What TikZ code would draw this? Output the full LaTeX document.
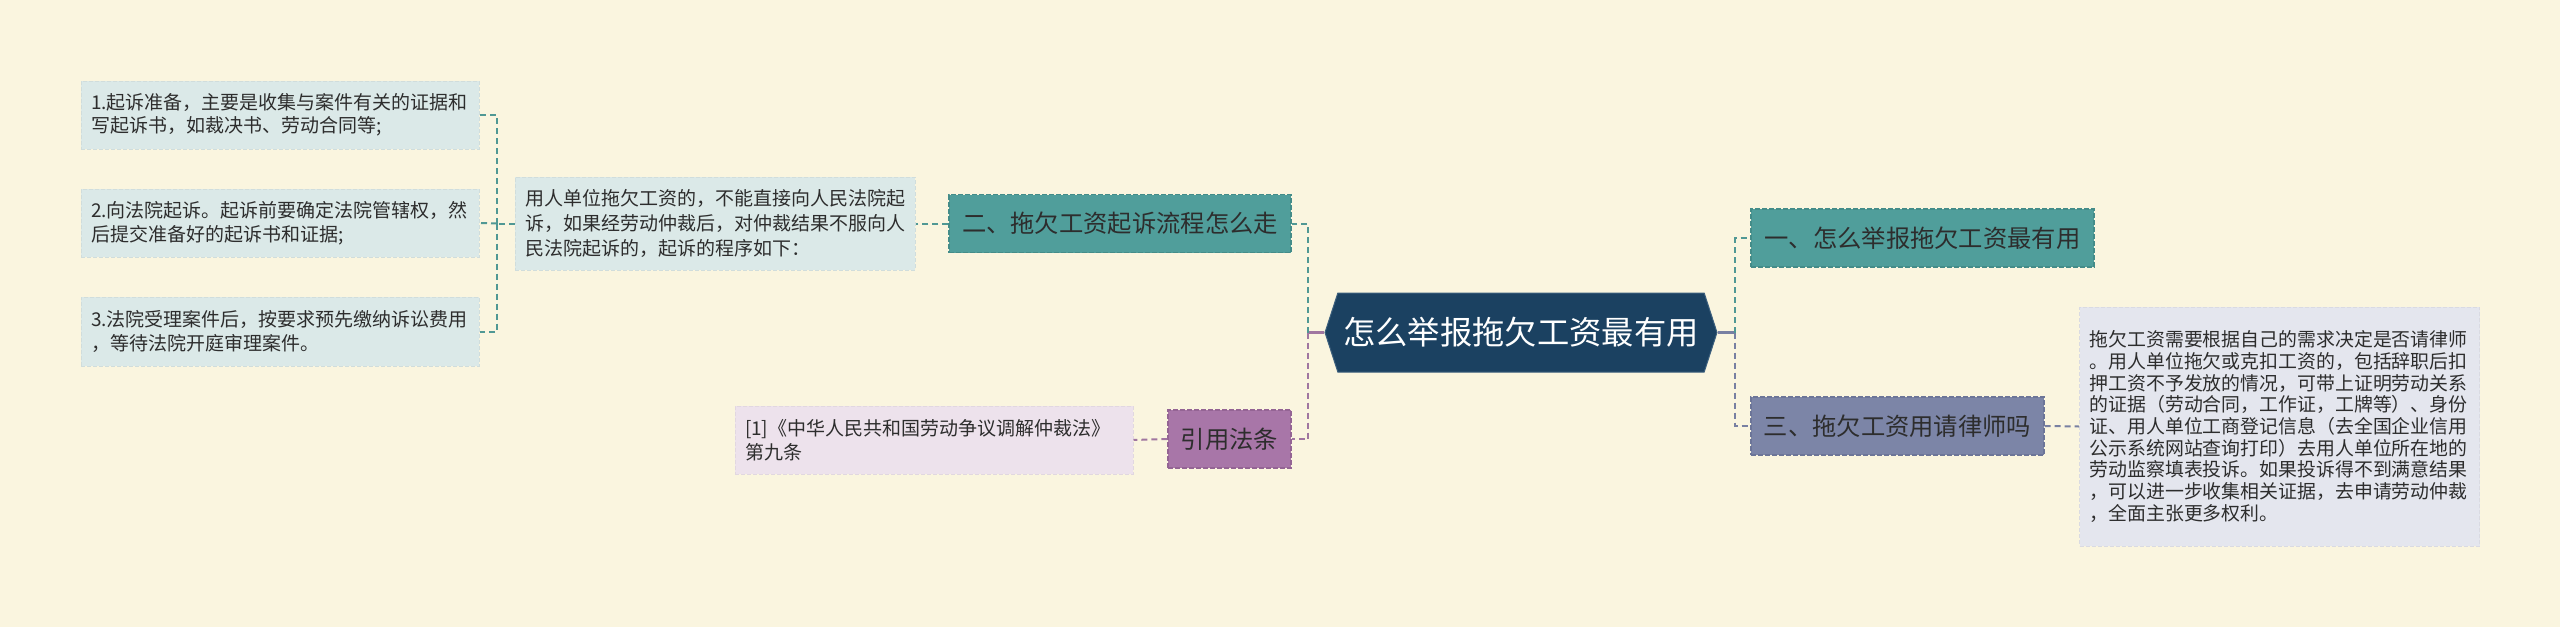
\documentclass[tikz,border=0pt]{standalone}
\usepackage{fontspec}
\setmainfont{Noto Sans CJK SC}
\usetikzlibrary{shapes.symbols}
\definecolor{bg}{RGB}{250,245,223}
\definecolor{navy}{RGB}{27,65,97}
\definecolor{navyb}{RGB}{60,95,125}
\definecolor{tealn}{RGB}{80,158,155}
\definecolor{tealb}{RGB}{68,140,137}
\definecolor{slaten}{RGB}{124,133,167}
\definecolor{slateb}{RGB}{108,117,152}
\definecolor{purpn}{RGB}{168,118,168}
\definecolor{purpb}{RGB}{148,100,148}
\definecolor{tealleaf}{RGB}{219,233,232}
\definecolor{slateleaf}{RGB}{228,230,238}
\definecolor{purpleaf}{RGB}{237,226,236}
\definecolor{txt}{RGB}{45,45,45}
\definecolor{tealline}{RGB}{80,152,148}
\definecolor{slateline}{RGB}{120,128,162}
\definecolor{purpline}{RGB}{160,118,160}
\begin{document}
\begin{tikzpicture}[x=1pt,y=-1pt,
  leaf/.style={rectangle, dashed, dash pattern=on 4pt off 2pt, line width=1pt,
    align=left, text=txt, inner xsep=10pt, inner ysep=0pt,
    font=\fontsize{19}{23.5}\selectfont},
  branch/.style={rectangle, dashed, dash pattern=on 5pt off 2pt, line width=1.2pt,
    text=txt, inner xsep=0pt, inner ysep=0pt, minimum height=58pt,
    font=\fontsize{24.3}{28}\selectfont},
  conn/.style={line width=2pt, dash pattern=on 6pt off 4pt},
  stub/.style={line width=3pt}
]
\fill[bg] (0,0) rectangle (2560,627);
\useasboundingbox (0,0) rectangle (2560,627);

% center
\node[signal, signal to=west and east, signal pointer angle=144, fill=navy, draw=navyb,
  line width=1pt, minimum width=392pt, minimum height=79pt, inner sep=0pt,
  text=white, font=\fontsize{32.3}{36}\selectfont] (c) at (1521,332.5) {怎么举报拖欠工资最有用};

% branches
\node[branch, fill=tealn, draw=tealb, minimum width=342pt] (b2) at (1120,223.5) {二、拖欠工资起诉流程怎么走};
\node[branch, fill=purpn, draw=purpb, minimum width=123pt] (b4) at (1229.5,439) {引用法条};
\node[branch, fill=tealn, draw=tealb, minimum width=343pt] (b1) at (1922.5,238) {一、怎么举报拖欠工资最有用};
\node[branch, fill=slaten, draw=slateb, minimum width=293pt] (b3) at (1897.5,426) {三、拖欠工资用请律师吗};

% leaves of b2
\node[leaf, fill=tealleaf, draw=tealleaf!95!black, text width=380pt, minimum height=93pt,
  font=\fontsize{19}{25}\selectfont] (p) at (715,223.5)
  {用人单位拖欠工资的，不能直接向人民法院起\\诉，如果经劳动仲裁后，对仲裁结果不服向人\\民法院起诉的，起诉的程序如下：};
\node[leaf, fill=tealleaf, draw=tealleaf!95!black, text width=378pt, minimum height=68pt] (l1) at (280,115)
  {1.起诉准备，主要是收集与案件有关的证据和\\写起诉书，如裁决书、劳动合同等;};
\node[leaf, fill=tealleaf, draw=tealleaf!95!black, text width=378pt, minimum height=68pt] (l2) at (280,223)
  {2.向法院起诉。起诉前要确定法院管辖权，然\\后提交准备好的起诉书和证据;};
\node[leaf, fill=tealleaf, draw=tealleaf!95!black, text width=378pt, minimum height=69pt] (l3) at (280,331.5)
  {3.法院受理案件后，按要求预先缴纳诉讼费用\\，等待法院开庭审理案件。};

% leaf of b4
\node[leaf, fill=purpleaf, draw=purpleaf!95!black, text width=378pt, minimum height=68pt,
  font=\fontsize{19}{24}\selectfont] (cite) at (934,440)
  {[1]《中华人民共和国劳动争议调解仲裁法》\\第九条};

% leaf of b3
\node[leaf, fill=slateleaf, draw=slateleaf!95!black, text width=380pt, minimum height=239pt,
  font=\fontsize{18.9}{21.7}\selectfont] (big) at (2279.5,426.5)
  {拖欠工资需要根据自己的需求决定是否请律师\\。用人单位拖欠或克扣工资的，包括辞职后扣\\押工资不予发放的情况，可带上证明劳动关系\\的证据（劳动合同，工作证，工牌等）、身份\\证、用人单位工商登记信息（去全国企业信用\\公示系统网站查询打印）去用人单位所在地的\\劳动监察填表投诉。如果投诉得不到满意结果\\，可以进一步收集相关证据，去申请劳动仲裁\\，全面主张更多权利。};

% junction coordinates
\coordinate (L) at (1308,332.5);
\coordinate (R) at (1735,332.5);
\coordinate (M) at (497,223.5);

% connectors
\draw[stub, purpline] (c.west) -- (L);
\draw[stub, slateline] (c.east) -- (R);
\draw[conn, tealline] (L) |- (b2.east);
\draw[conn, purpline] (L) |- (b4.east);
\draw[conn, tealline] (R) |- (b1.west);
\draw[conn, slateline] (R) |- (b3.west);
\draw[conn, tealline] (b2.west) -- (p.east);
\draw[conn, purpline] (b4.west) -- (cite.east);
\draw[conn, slateline] (b3.east) -- (big.west);
\draw[conn, tealline] (p.west) -- (M);
\draw[conn, tealline] (M) |- (l1.east);
\draw[conn, tealline] (M) -- (l2.east);
\draw[conn, tealline] (M) |- (l3.east);
\end{tikzpicture}
\end{document}
